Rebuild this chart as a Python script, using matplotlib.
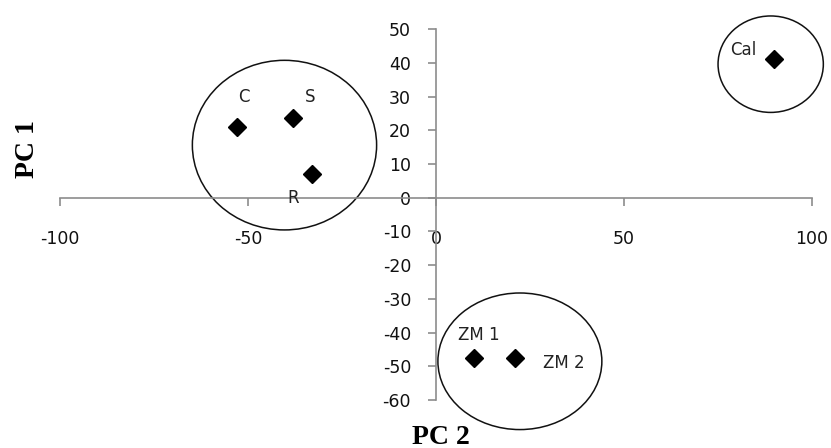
import matplotlib
matplotlib.use("Agg")
import matplotlib.pyplot as plt
from matplotlib.patches import Ellipse

plt.rcParams["axes.unicode_minus"] = False

# ============ DATA ============
samples = ["C", "S", "R", "Cal", "ZM 1", "ZM 2"]
pc2_vals = [-53, -38, -33, 90, 10, 21]
pc1_vals = [21, 23.5, 7, 41, -47.5, -47.5]
# label offsets in pixels (label position relative to its point)
label_dx = [7, 17, -19, -31, 5, 49]
label_dy = [30, 21, -24, 9, 23, -5]

# group ellipses: centre x, centre y, width, height (data units)
groups = ["C/S/R", "Cal", "ZM"]
ell_x = [-40.3, 89, 22.3]
ell_y = [15.6, 39.6, -48.5]
ell_w = [49, 28, 43.6]
ell_h = [50.3, 28.6, 40.5]

x_ticks = [-100, -50, 0, 50, 100]
y_ticks = list(range(-60, 51, 10))

AXIS_GREY = "#8c8c8c"

# ============ FIGURE ============
fig = plt.figure(figsize=(8.31, 4.48), dpi=100)
ax = fig.add_axes([0.0722, 0.107, 0.905, 0.828])
ax.set_xlim(-100, 100)
ax.set_ylim(-60, 50)

for side in ["top", "right"]:
    ax.spines[side].set_visible(False)
ax.spines["left"].set_position(("data", 0))
ax.spines["bottom"].set_position(("data", 0))
for side in ["left", "bottom"]:
    ax.spines[side].set_color(AXIS_GREY)
    ax.spines[side].set_linewidth(1.2)

ax.set_xticks(x_ticks)
ax.set_yticks(y_ticks)
ax.tick_params(axis="x", direction="out", length=6, width=1.2, color=AXIS_GREY,
               pad=17, labelsize=12.5, labelcolor="#111111")
ax.tick_params(axis="y", direction="out", length=6, width=1.2, color=AXIS_GREY,
               pad=12, labelsize=12.5, labelcolor="#111111")

# points
ax.plot(pc2_vals, pc1_vals, linestyle="none", marker="D", markersize=9.5,
        color="black", clip_on=False, zorder=3)

# labels
for name, x, y, dx, dy in zip(samples, pc2_vals, pc1_vals, label_dx, label_dy):
    ax.annotate(name, (x, y), xytext=(dx, dy), textcoords="offset pixels",
                ha="center", va="center", fontsize=12, color="#222222")

# ellipses
for cx, cy, w, h in zip(ell_x, ell_y, ell_w, ell_h):
    ax.add_patch(Ellipse((cx, cy), w, h, fill=False, edgecolor="#111111",
                         linewidth=1.1, clip_on=False, zorder=2))

# axis titles
fig.text(28 / 831, 1 - 149 / 448, "PC 1", rotation=90, ha="center", va="center",
         fontsize=20, fontweight="bold", family="Liberation Serif")
fig.text(441 / 831, 1 - 437 / 448, "PC 2", ha="center", va="center",
         fontsize=20, fontweight="bold", family="Liberation Serif")

fig.savefig("out.png", dpi=100)
